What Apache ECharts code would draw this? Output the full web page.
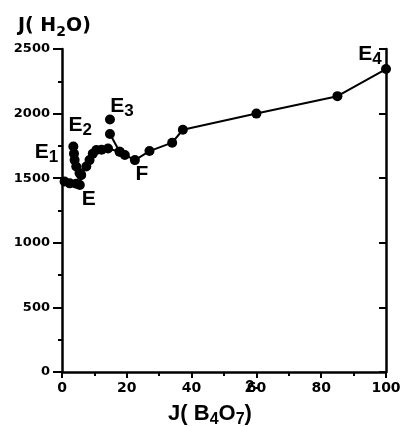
<!DOCTYPE html>
<html>
<head>
  <meta charset="UTF-8">
  <title>J(H2O) vs J(B4O7)</title>
  <style>
    html, body { margin: 0; padding: 0; background: #fff; }
    #chart { width: 402px; height: 427px; }
  </style>
  <script src="https://cdn.jsdelivr.net/npm/echarts@6/dist/echarts.min.js"></script>
</head>
<body>
<div id="chart"></div>
<script>
  // values: [J(B4O7 2-), J(H2O)]
  var e1Branch = [[0.8, 1475], [2.4, 1460], [4.4, 1458], [5.5, 1447], [5.9, 1525]];
  var mainBranch = [[3.5, 1745], [3.7, 1690], [3.9, 1640], [4.4, 1590], [5.4, 1540], [5.9, 1525],
    [7.5, 1590], [8.5, 1640], [9.5, 1690], [10.6, 1718], [12.2, 1720], [14.2, 1730],
    [17.8, 1705], [19.4, 1680], [22.5, 1640], [27, 1710], [34, 1775], [37.3, 1875],
    [60, 2000], [85, 2135], [100, 2345]];
  var e3Link = [[14.8, 1842], [17.8, 1705]];
  var e3Point = [[14.8, 1955]];

  var xTicks = [0, 20, 40, 60, 80, 100];
  var yTicks = [0, 500, 1000, 1500, 2000, 2500];

  // point labels: name, subscript, anchor point
  var pointLabels = [
    { name: 'E', sub: '1', at: [0.8, 1475] },
    { name: 'E', sub: '2', at: [3.5, 1745] },
    { name: 'E', sub: '3', at: [14.8, 1955] },
    { name: 'E', sub: '4', at: [100, 2345] },
    { name: 'F', sub: '', at: [22.5, 1640] },
    { name: 'E', sub: '', at: [5.5, 1447] }
  ];
  var labelOffsets = [[-18, -29], [7, -21], [12, -13], [-16, -15], [7, 14], [9, 14]];

  var myChart = echarts.init(document.getElementById('chart'));

  var tickFont = { color: '#000', fontFamily: 'DejaVu Sans', fontWeight: 'bold', fontSize: 13 };

  function lineSeries(data) {
    return {
      type: 'line',
      data: data,
      symbol: 'circle',
      symbolSize: 10,
      itemStyle: { color: '#000', opacity: 1 },
      lineStyle: { color: '#000', width: 2 },
      animation: false,
      z: 3
    };
  }

  var labelData = pointLabels.map(function (p, i) {
    return {
      value: p.at,
      label: {
        formatter: '{b|' + p.name + '}' + (p.sub ? '{s|' + p.sub + '}' : ''),
        offset: labelOffsets[i]
      }
    };
  });

  var option = {
    backgroundColor: '#fff',
    grid: { left: 62, right: 16, top: 49, bottom: 55, outerBoundsMode: 'none', containLabel: false },
    // charge superscript of the x title
    graphic: [{
      type: 'text',
      left: 245,
      top: 379,
      silent: true,
      style: { text: '2-', font: 'bold 17px "Liberation Sans"', fill: '#000' }
    }],
    xAxis: {
      type: 'value',
      min: 0,
      max: 100,
      interval: 20,
      name: '{t|J( B}{s|4}{t|O}{s|7}{t|)}',
      nameLocation: 'middle',
      nameGap: 27,
      nameTextStyle: {
        padding: [0, 28, 0, 0],
        rich: {
          t: { fontFamily: 'Liberation Sans', fontWeight: 'bold', fontSize: 22, color: '#000' },
          s: { fontFamily: 'Liberation Sans', fontWeight: 'bold', fontSize: 16, color: '#000', padding: [13, 0, 0, 0] }
        }
      },
      axisLine: { lineStyle: { color: '#000', width: 2.5 } },
      axisTick: { inside: false, length: 6, lineStyle: { color: '#000', width: 2 } },
      minorTick: { show: true, splitNumber: 2, length: 4, lineStyle: { color: '#000', width: 2 } },
      splitLine: { show: false },
      axisLabel: Object.assign({ margin: 9, formatter: function (v) {
        return xTicks.indexOf(v) >= 0 ? String(v) : '';
      } }, tickFont, { fontSize: 14 })
    },
    yAxis: [{
      type: 'value',
      min: 0,
      max: 2500,
      interval: 500,
      name: '{t|J( H}{s|2}{t|O)}',
      nameLocation: 'end',
      nameGap: 10,
      nameTextStyle: {
        align: 'left',
        padding: [0, 0, 0, -44],
        rich: {
          t: { fontFamily: 'DejaVu Sans', fontWeight: 'bold', fontSize: 19, color: '#000' },
          s: { fontFamily: 'DejaVu Sans', fontWeight: 'bold', fontSize: 14, color: '#000', padding: [11, 0, 0, 0] }
        }
      },
      axisLine: { show: true, lineStyle: { color: '#000', width: 2.5 } },
      axisTick: { show: true, inside: false, length: 9, lineStyle: { color: '#000', width: 2 } },
      minorTick: { show: true, splitNumber: 2, length: 4, lineStyle: { color: '#000', width: 2 } },
      splitLine: { show: false },
      axisLabel: Object.assign({ margin: 12, formatter: function (v) {
        return yTicks.indexOf(v) >= 0 ? String(v) : '';
      } }, tickFont)
    }, {
      type: 'value',
      position: 'right',
      min: 0,
      max: 2500,
      interval: 500,
      axisLine: { show: true, lineStyle: { color: '#000', width: 2.5 } },
      axisTick: { show: true, inside: true, length: 7, lineStyle: { color: '#000', width: 2 } },
      axisLabel: { show: false },
      splitLine: { show: false }
    }],
    series: [
      lineSeries(e1Branch),
      lineSeries(mainBranch),
      lineSeries(e3Link),
      {
        type: 'scatter',
        data: e3Point,
        symbol: 'circle',
        symbolSize: 10,
        itemStyle: { color: '#000', opacity: 1 },
        animation: false,
        z: 3
      },
      {
        type: 'scatter',
        data: labelData,
        symbolSize: 0,
        silent: true,
        animation: false,
        itemStyle: { opacity: 1 },
        z: 5,
        label: {
          show: true,
          position: 'inside',
          opacity: 1,
          rich: {
            b: { fontFamily: 'Liberation Sans', fontWeight: 'bold', fontSize: 21, color: '#000' },
            s: { fontFamily: 'Liberation Sans', fontWeight: 'bold', fontSize: 17, color: '#000', padding: [10, 0, 0, 0] }
          }
        }
      }
    ]
  };
  myChart.setOption(option);
</script>
</body>
</html>
